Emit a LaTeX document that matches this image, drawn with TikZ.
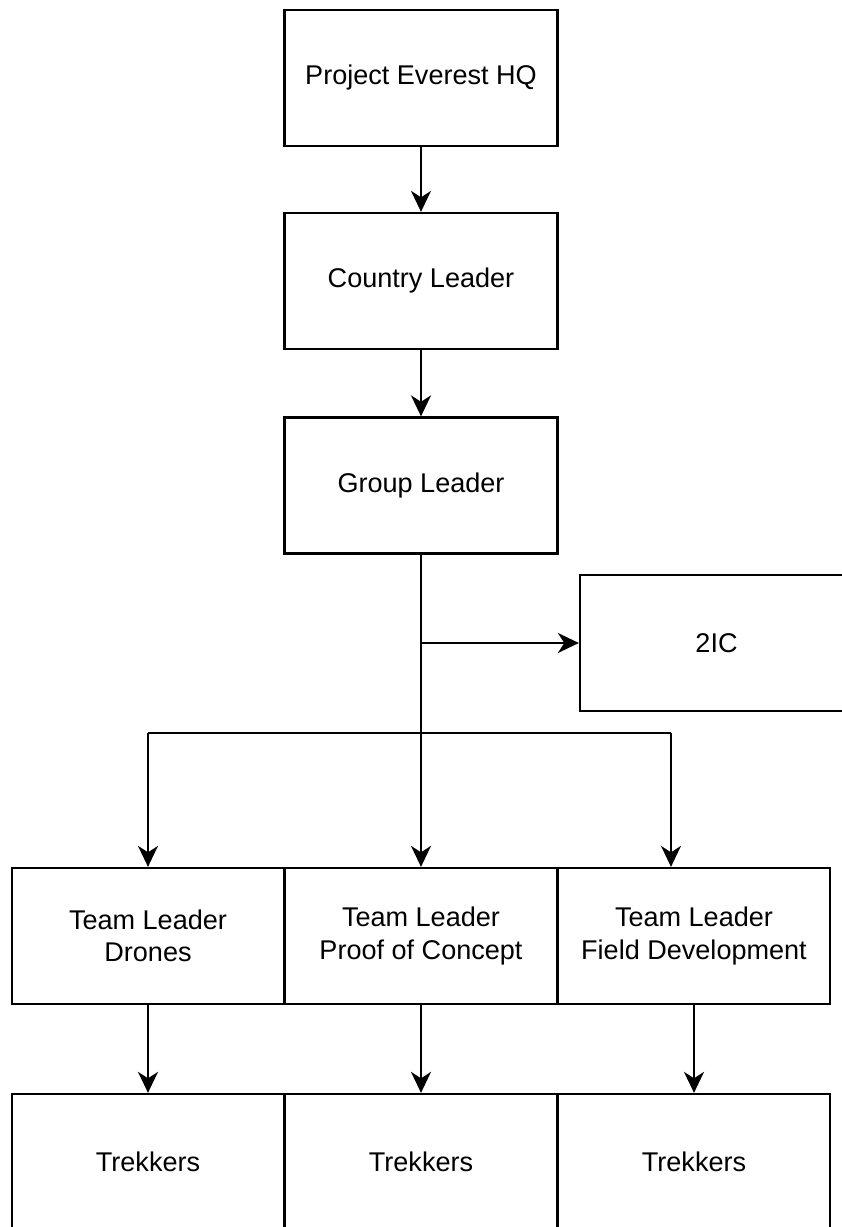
\documentclass[tikz,border=0pt]{standalone}
\usepackage{fontspec}
\setmainfont{Liberation Sans}
\usetikzlibrary{arrows.meta,positioning}

\tikzset{
  unit/.style={rectangle, draw, line width=1.3pt, minimum width=5.46cm, minimum height=2.72cm, align=center, inner sep=0pt, font=\fontsize{15.4}{18.5}\selectfont},
  team/.style={unit, minimum width=5.44cm},
  link/.style={line width=1.3pt, -{Stealth[length=0.42cm,width=0.4cm,inset=0.13cm]}}
}

\begin{document}
\begin{tikzpicture}
\useasboundingbox (0,0) rectangle (16.82,-24.54);

% Chain of command
\node[unit] (hq) at (8.42,-1.56) {Project Everest HQ};
\node[unit] (country) at (8.42,-5.62) {Country Leader};
\node[unit] (group) at (8.42,-9.71) {Group Leader};

% Second in charge
\node[unit] (twoic) at (14.33,-12.86) {2IC};

% Team leaders
\node[team] (drones) at (2.96,-18.72) {Team Leader\\Drones};
\node[team] (poc) at (8.42,-18.72) {Team Leader\\Proof of Concept};
\node[team] (field) at (13.88,-18.72) {Team Leader\\Field Development};

% Trekkers
\node[team] (trekA) at (2.96,-23.24) {Trekkers};
\node[team] (trekB) at (8.42,-23.24) {Trekkers};
\node[team] (trekC) at (13.88,-23.24) {Trekkers};

% Split points
\coordinate (branch) at (8.42,-12.86);
\coordinate (barL) at (2.96,-14.66);
\coordinate (barR) at (13.42,-14.66);

% Arrows
\draw[link] (hq) -- (country);
\draw[link] (country) -- (group);
\draw[link] (group) -- (poc);
\draw[link] (branch) -- (twoic);
\draw[line width=1.3pt] (barL) -- (barR);
\draw[link] (barL) -- (drones);
\draw[link] (barR) -- (barR |- field.north);
\draw[link] (drones) -- (trekA);
\draw[link] (poc) -- (trekB);
\draw[link] (field) -- (trekC);
\end{tikzpicture}
\end{document}
